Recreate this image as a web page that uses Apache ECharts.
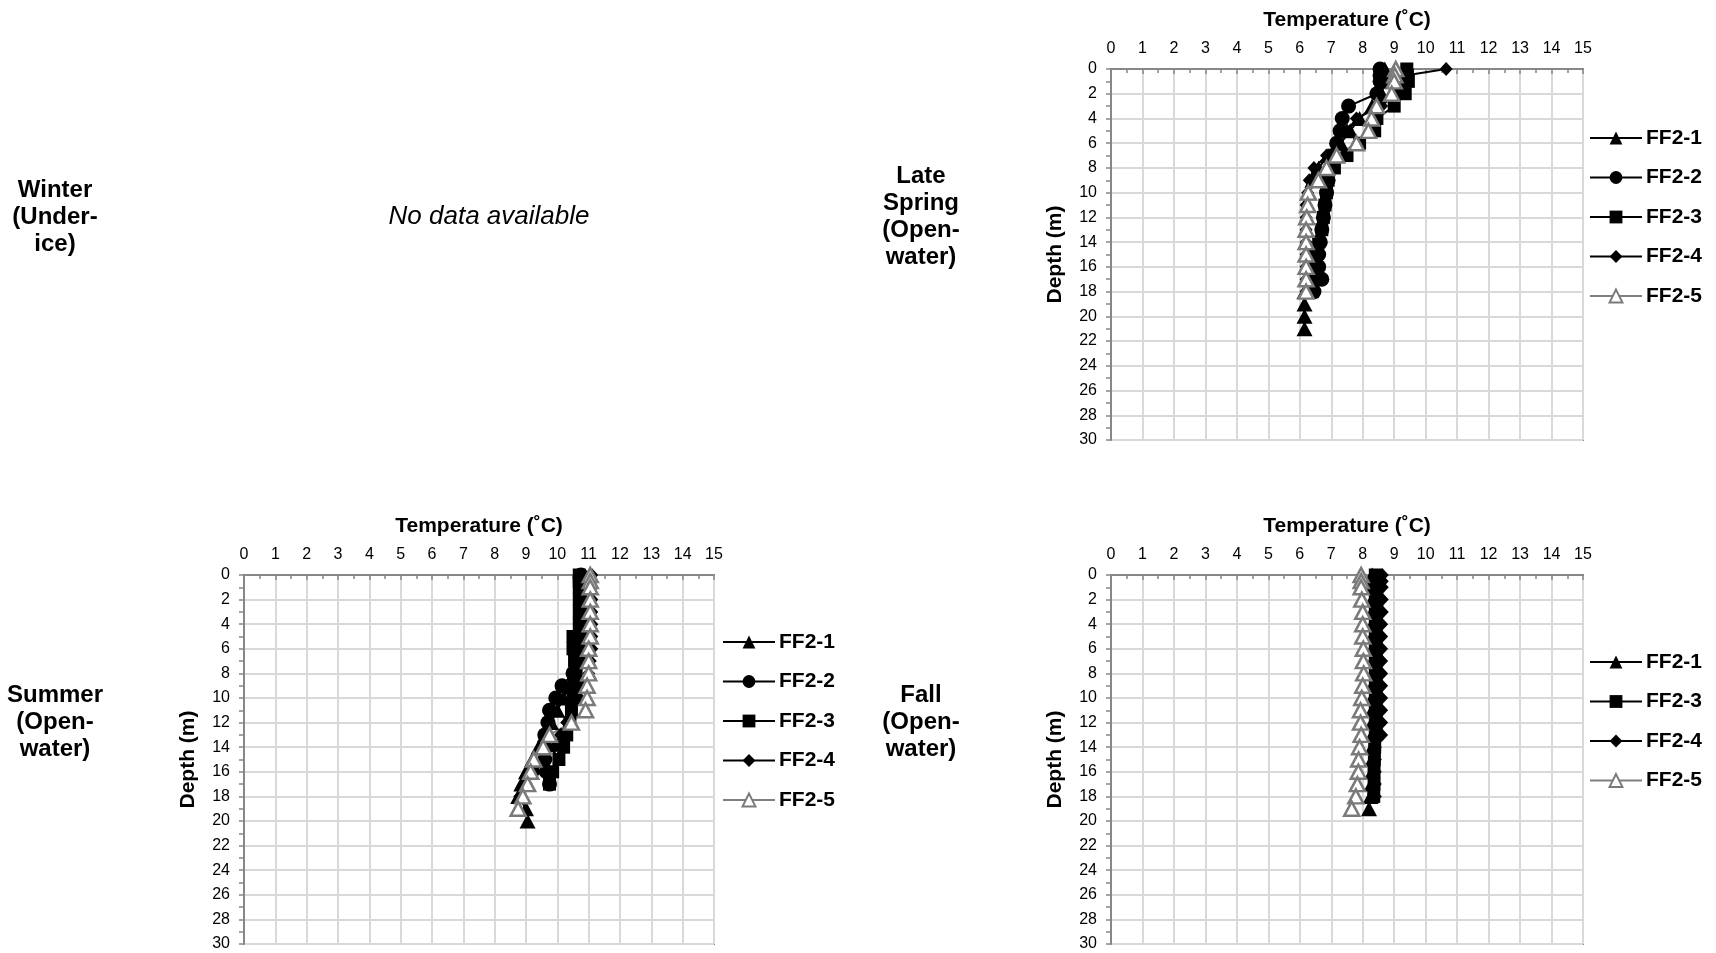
<!DOCTYPE html>
<html><head><meta charset="utf-8">
<script src="https://cdn.jsdelivr.net/npm/echarts@6/dist/echarts.min.js"></script>
<style>html,body{margin:0;padding:0;background:#fff}#c{width:1716px;height:953px}</style>
</head><body><div id="c"></div>
<script>
// Depths (m) at which each profile was sampled (index-aligned with temperature arrays)
const DEPTHS = [0, 0.5, 1, 2, 3, 4, 5, 6, 7, 8, 9, 10, 11, 12, 13, 14, 15, 16, 17, 18, 19, 20, 21];

// Late Spring temperatures (°C)
const spring_FF2_1 = [8.7, 8.7, 8.7, 8.6, 8.3, 7.9, 7.6, 7.3, 6.9, 6.6, 6.4, 6.3, 6.25, 6.2, 6.2, 6.2, 6.2, 6.2, 6.2, 6.15, 6.15, 6.15, 6.15];
const spring_FF2_2 = [8.55, 8.55, 8.55, 8.45, 7.55, 7.35, 7.28, 7.17, 7.05, 7.0, 6.9, 6.85, 6.8, 6.75, 6.7, 6.65, 6.6, 6.6, 6.7, 6.45];
const spring_FF2_3 = [9.4, 9.42, 9.45, 9.35, 9.0, 8.45, 8.38, 7.9, 7.5, 7.1, 6.9, 6.85, 6.8, 6.75, 6.7, 6.6, 6.5, 6.45, 6.4, 6.4];
const spring_FF2_4 = [10.65, 9.4, 9.3, 9.05, 8.6, 7.8, 7.5, 7.2, 6.85, 6.45, 6.3, 6.25, 6.2, 6.2, 6.2, 6.2, 6.2, 6.2, 6.2, 6.2];
const spring_FF2_5 = [9.05, 9.02, 9.0, 8.92, 8.44, 8.28, 8.18, 7.8, 7.17, 6.85, 6.59, 6.27, 6.25, 6.22, 6.2, 6.2, 6.2, 6.2, 6.2, 6.2];

// Summer temperatures (°C)
const summer_FF2_1 = [10.8, 10.8, 10.8, 10.8, 10.8, 10.8, 10.8, 10.8, 10.7, 10.6, 10.4, 10.2, 10.0, 9.8, 9.6, 9.4, 9.2, 9.0, 8.85, 8.75, 9.0, 9.05];
const summer_FF2_2 = [10.75, 10.75, 10.75, 10.75, 10.75, 10.75, 10.75, 10.7, 10.7, 10.5, 10.15, 9.95, 9.75, 9.7, 9.6, 9.6, 9.6, 9.65, 9.75];
const summer_FF2_3 = [10.7, 10.7, 10.7, 10.7, 10.7, 10.7, 10.5, 10.5, 10.55, 10.6, 10.55, 10.5, 10.45, 10.4, 10.3, 10.2, 10.05, 9.85, 9.75];
const summer_FF2_4 = [11.1, 11.1, 11.1, 11.1, 11.1, 11.1, 11.1, 11.1, 11.05, 11.0, 10.85, 10.7, 10.45, 10.3, 10.1, 9.9, 9.6, 9.3, 9.0, 8.8];
const summer_FF2_5 = [11.05, 11.05, 11.05, 11.05, 11.05, 11.05, 11.05, 11.0, 11.0, 11.0, 10.95, 10.95, 10.9, 10.45, 9.75, 9.55, 9.25, 9.15, 9.05, 8.9, 8.75];

// Fall temperatures (°C)
const fall_FF2_1 = [8.3, 8.3, 8.3, 8.3, 8.3, 8.3, 8.3, 8.3, 8.3, 8.3, 8.3, 8.3, 8.3, 8.3, 8.3, 8.3, 8.3, 8.3, 8.28, 8.25, 8.2];
const fall_FF2_3 = [8.4, 8.4, 8.4, 8.4, 8.4, 8.4, 8.4, 8.4, 8.4, 8.4, 8.4, 8.4, 8.4, 8.4, 8.4, 8.38, 8.37, 8.36, 8.36, 8.35];
const fall_FF2_4 = [8.62, 8.62, 8.62, 8.62, 8.62, 8.6, 8.6, 8.6, 8.6, 8.6, 8.6, 8.6, 8.6, 8.6, 8.6, 8.4, 8.4, 8.4, 8.4, 8.4];
const fall_FF2_5 = [7.95, 7.95, 7.95, 7.97, 8.0, 8.0, 8.0, 8.02, 8.02, 8.03, 8.0, 7.97, 7.93, 7.93, 7.95, 7.9, 7.87, 7.86, 7.83, 7.78, 7.65];

const SERIES_NAMES = ['FF2-1', 'FF2-2', 'FF2-3', 'FF2-4', 'FF2-5'];
const FALL_NAMES = ['FF2-1', 'FF2-3', 'FF2-4', 'FF2-5'];
const TEMP_MIN = 0, TEMP_MAX = 15, TEMP_STEP = 1;
const DEPTH_MIN = 0, DEPTH_MAX = 30, DEPTH_STEP = 2;

const FONT = '"Liberation Sans", Arial, Helvetica, sans-serif';
const AXIS_GRAY = '#878787';
const GRID_GRAY = '#d9d9d9';

const STYLE = {
  'FF2-1': {symbol: 'triangle', size: [16, 15], fill: '#000', stroke: '#000', line: '#000', bw: 0},
  'FF2-2': {symbol: 'circle', size: 15, fill: '#000', stroke: '#000', line: '#000', bw: 0},
  'FF2-3': {symbol: 'rect', size: 13, fill: '#000', stroke: '#000', line: '#000', bw: 0},
  'FF2-4': {symbol: 'diamond', size: [13, 14], fill: '#000', stroke: '#000', line: '#000', bw: 0},
  'FF2-5': {symbol: 'triangle', size: [15, 14], fill: '#fff', stroke: '#7a7a7a', line: '#7f7f7f', bw: 2.5}
};

function pts(temps) { return temps.map((t, i) => [t, DEPTHS[i]]); }

function mkSeries(name, temps, idx) {
  const s = STYLE[name];
  return {
    name, type: 'line', xAxisIndex: idx, yAxisIndex: idx,
    data: pts(temps), symbol: s.symbol, symbolSize: s.size, showAllSymbol: true,
    clip: false, animation: false, silent: true,
    lineStyle: {color: s.line, width: 2},
    itemStyle: {color: s.fill, borderColor: s.stroke, borderWidth: s.bw, opacity: 1},
    emphasis: {disabled: true}
  };
}

const grids = [
  {left: 1111, top: 69, width: 472, height: 371},
  {left: 244, top: 575, width: 470, height: 369},
  {left: 1111, top: 575, width: 472, height: 369}
].map(g => Object.assign(g, {show: true, borderColor: AXIS_GRAY, borderWidth: 2, containLabel: false}));

const xAxes = [0, 1, 2].map(i => ({
  type: 'value', gridIndex: i, position: 'top', min: TEMP_MIN, max: TEMP_MAX, interval: TEMP_STEP,
  name: 'Temperature (˚C)', nameLocation: 'middle', nameGap: 38,
  nameTextStyle: {fontSize: 21, fontWeight: 'bold', color: '#000', fontFamily: FONT},
  axisLine: {show: true, onZero: false, lineStyle: {color: AXIS_GRAY, width: 2}},
  axisTick: {show: true, inside: true, length: 5, lineStyle: {color: AXIS_GRAY, width: 1.5}},
  minorTick: {show: true, splitNumber: 2, length: 4, lineStyle: {color: AXIS_GRAY, width: 1.5}},
  splitLine: {show: true, lineStyle: {color: GRID_GRAY, width: 2}},
  axisLabel: {fontSize: 16, color: '#000', margin: 12, fontFamily: FONT}
}));

const yAxes = [0, 1, 2].map(i => ({
  type: 'value', gridIndex: i, inverse: true, min: DEPTH_MIN, max: DEPTH_MAX, interval: DEPTH_STEP,
  name: 'Depth (m)', nameLocation: 'middle', nameGap: 45, nameRotate: 90,
  nameTextStyle: {fontSize: 21, fontWeight: 'bold', color: '#000', fontFamily: FONT},
  axisLine: {show: true, onZero: false, lineStyle: {color: AXIS_GRAY, width: 2}},
  axisTick: {show: true, length: 5, lineStyle: {color: AXIS_GRAY, width: 1.5}},
  minorTick: {show: true, splitNumber: 2, length: 5, lineStyle: {color: AXIS_GRAY, width: 1.5}},
  splitLine: {show: true, lineStyle: {color: GRID_GRAY, width: 2}},
  axisLabel: {fontSize: 16, color: '#000', margin: 14, fontFamily: FONT}
}));

const series = [
  mkSeries('FF2-1', spring_FF2_1, 0), mkSeries('FF2-2', spring_FF2_2, 0), mkSeries('FF2-3', spring_FF2_3, 0),
  mkSeries('FF2-4', spring_FF2_4, 0), mkSeries('FF2-5', spring_FF2_5, 0),
  mkSeries('FF2-1', summer_FF2_1, 1), mkSeries('FF2-2', summer_FF2_2, 1), mkSeries('FF2-3', summer_FF2_3, 1),
  mkSeries('FF2-4', summer_FF2_4, 1), mkSeries('FF2-5', summer_FF2_5, 1),
  mkSeries('FF2-1', fall_FF2_1, 2), mkSeries('FF2-3', fall_FF2_3, 2),
  mkSeries('FF2-4', fall_FF2_4, 2), mkSeries('FF2-5', fall_FF2_5, 2)
];

const legendBase = {
  orient: 'vertical', padding: 0, itemWidth: 52, itemHeight: 16, itemGap: 15.5,
  selectedMode: false,
  textStyle: {fontSize: 21, fontWeight: 'bold', color: '#000', fontFamily: FONT, lineHeight: 24, padding: [0, 0, 0, -1]}
};
const legends = [
  Object.assign({}, legendBase, {data: SERIES_NAMES, left: 1589, top: 126}),
  Object.assign({}, legendBase, {data: SERIES_NAMES, left: 722, top: 630}),
  Object.assign({}, legendBase, {data: FALL_NAMES, left: 1589, top: 650})
];

function label(text, x, y, opts) {
  return {
    type: 'text', x, y, silent: true,
    style: Object.assign({
      text, align: 'center', verticalAlign: 'middle', fill: '#000',
      fontSize: 24, fontWeight: 'bold', fontFamily: FONT, lineHeight: 27
    }, opts || {})
  };
}

const graphics = [
  label('Winter\n(Under-\nice)', 55, 217),
  label('Late\nSpring\n(Open-\nwater)', 921, 217),
  label('Summer\n(Open-\nwater)', 55, 722),
  label('Fall\n(Open-\nwater)', 921, 722),
  label('No data available', 489, 217, {fontWeight: 'normal', fontStyle: 'italic', fontSize: 26})
];

const chart = echarts.init(document.getElementById('c'), null, {renderer: 'canvas'});
chart.setOption({
  backgroundColor: '#fff',
  animation: false,
  grid: grids, xAxis: xAxes, yAxis: yAxes,
  legend: legends, series, graphic: graphics
});
</script></body></html>
